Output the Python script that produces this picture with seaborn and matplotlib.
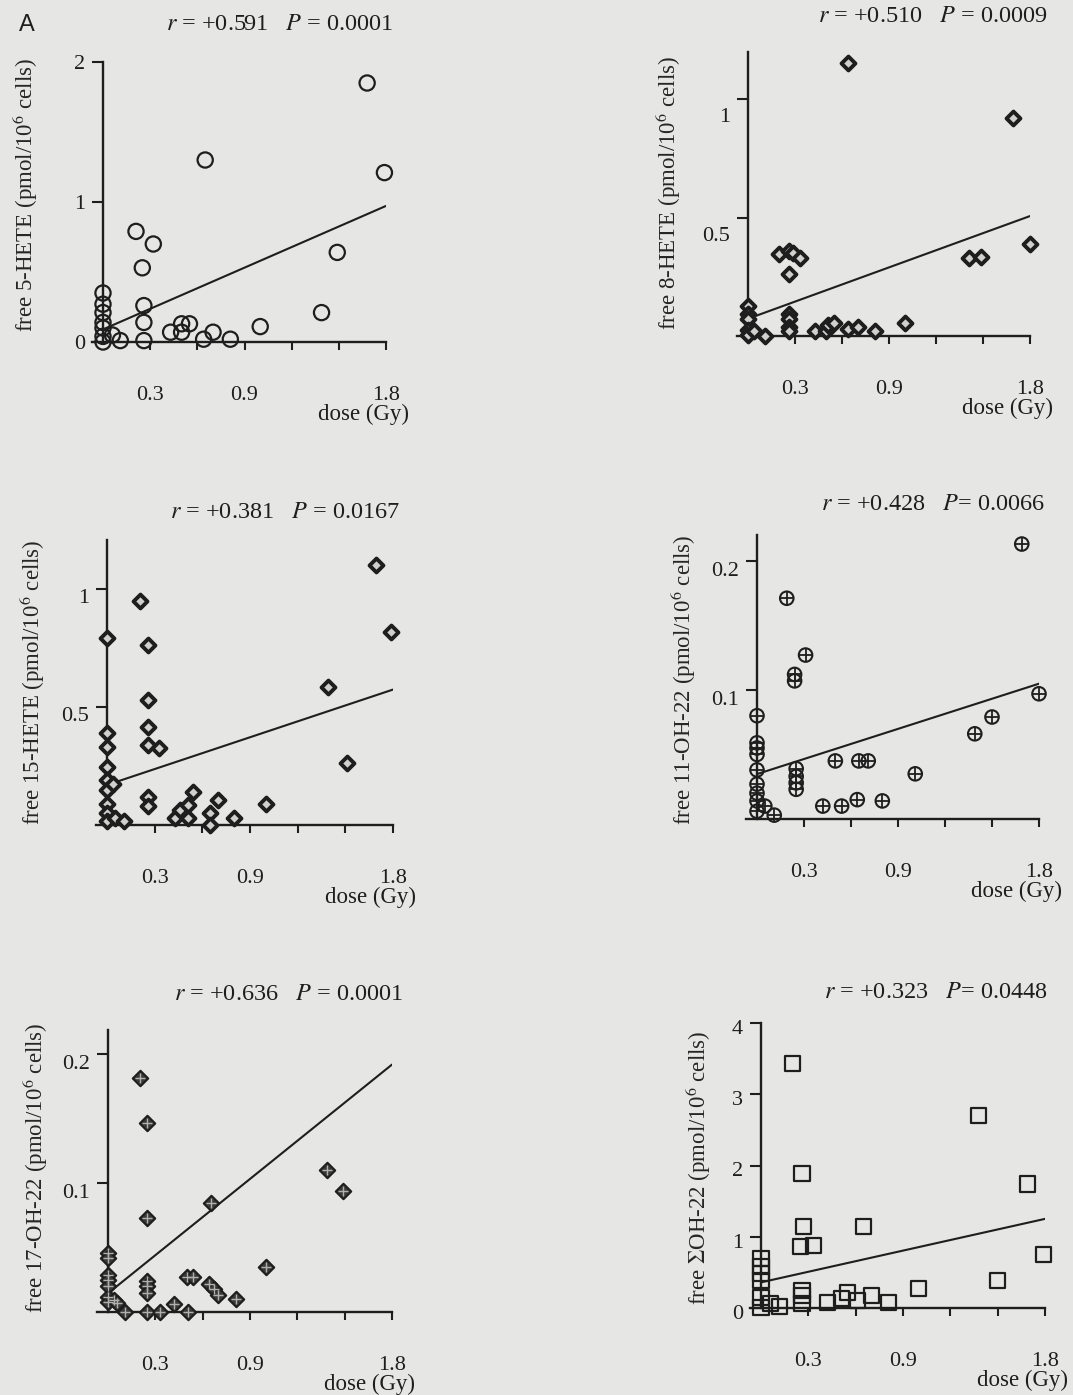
import numpy as np
import pandas as pd
import seaborn as sns
import matplotlib.pyplot as plt
from matplotlib.transforms import ScaledTranslation

# ---------------------------------------------------------
# data: dose (Gy) vs free hydroxy fatty acids
# ---------------------------------------------------------
dose_5hete = [1.68, 0.65, 1.79, 0.21, 0.32, 0.25, 1.49, 1.39, 0.0, 0.0, 0.0, 0.0, 0.0, 0.0,
              0.0, 0.06, 0.11, 0.26, 0.26, 0.26, 0.43, 0.50, 0.50, 0.55, 0.64, 0.70, 0.81, 1.00]
val_5hete = [1.85, 1.30, 1.21, 0.79, 0.70, 0.53, 0.64, 0.21, 0.35, 0.27, 0.21, 0.14, 0.10, 0.04,
             0.0, 0.05, 0.01, 0.26, 0.14, 0.01, 0.07, 0.13, 0.07, 0.13, 0.02, 0.07, 0.02, 0.11]

dose_8hete = [0.64, 1.69, 1.80, 1.41, 1.49, 0.20, 0.26, 0.29, 0.33, 0.26, 0.0, 0.0, 0.0, 0.0, 0.0,
              0.04, 0.11, 0.26, 0.26, 0.26, 0.26, 0.43, 0.50, 0.51, 0.55, 0.64, 0.70, 0.81, 1.00]
val_8hete = [1.155, 0.92, 0.39, 0.33, 0.335, 0.345, 0.36, 0.35, 0.33, 0.26, 0.125, 0.095, 0.07, 0.025, 0.005,
             0.02, 0.0, 0.095, 0.07, 0.04, 0.02, 0.02, 0.02, 0.045, 0.055, 0.03, 0.04, 0.02, 0.055]

dose_15hete = [1.69, 1.79, 1.39, 1.51, 0.21, 0.0, 0.26, 0.26, 0.26, 0.26, 0.33, 0.26, 0.26, 0.0, 0.0, 0.0,
               0.0, 0.0, 0.0, 0.0, 0.0, 0.04, 0.05, 0.11, 0.43, 0.46, 0.51, 0.51, 0.54, 0.65, 0.65, 0.70,
               0.80, 1.00]
val_15hete = [1.105, 0.82, 0.585, 0.265, 0.95, 0.795, 0.765, 0.53, 0.415, 0.34, 0.325, 0.12, 0.08, 0.39,
              0.33, 0.245, 0.19, 0.15, 0.09, 0.05, 0.015, 0.175, 0.03, 0.015, 0.03, 0.065, 0.03, 0.085,
              0.14, 0.05, 0.0, 0.105, 0.03, 0.09]

dose_11oh = [1.69, 0.19, 0.31, 0.24, 0.24, 1.80, 1.50, 1.39, 0.0, 0.0, 0.0, 0.0, 0.0, 0.0, 0.0, 0.0,
             0.0, 0.05, 0.11, 0.25, 0.25, 0.25, 0.25, 0.42, 0.50, 0.54, 0.64, 0.65, 0.71, 0.80, 1.01]
val_11oh = [0.213, 0.171, 0.127, 0.112, 0.107, 0.097, 0.079, 0.066, 0.080, 0.059, 0.055, 0.050, 0.038,
            0.027, 0.020, 0.014, 0.006, 0.010, 0.003, 0.039, 0.033, 0.028, 0.023, 0.010, 0.045, 0.010,
            0.015, 0.045, 0.045, 0.014, 0.035]

dose_17oh = [0.20, 0.25, 0.25, 0.65, 1.39, 1.49, 1.00, 0.0, 0.0, 0.0, 0.0, 0.0, 0.0, 0.0, 0.04, 0.06,
             0.11, 0.25, 0.25, 0.25, 0.25, 0.33, 0.42, 0.50, 0.54, 0.51, 0.64, 0.67, 0.70, 0.81]
val_17oh = [0.182, 0.147, 0.073, 0.085, 0.110, 0.094, 0.035, 0.046, 0.042, 0.029, 0.025, 0.020, 0.012,
            0.008, 0.0095, 0.007, 0.0, 0.024, 0.020, 0.015, 0.0, 0.0, 0.006, 0.027, 0.027, 0.0, 0.022,
            0.018, 0.013, 0.010]

dose_sumoh = [0.20, 1.38, 1.69, 0.26, 0.65, 0.27, 0.25, 0.33, 1.79, 1.50, 1.00, 0.0, 0.0, 0.0, 0.0,
              0.0, 0.0, 0.06, 0.12, 0.26, 0.26, 0.26, 0.42, 0.51, 0.55, 0.61, 0.70, 0.81]
val_sumoh = [3.43, 2.70, 1.74, 1.89, 1.15, 1.14, 0.86, 0.88, 0.75, 0.39, 0.27, 0.69, 0.58, 0.48, 0.39,
             0.15, 0.01, 0.06, 0.02, 0.25, 0.18, 0.06, 0.08, 0.13, 0.22, 0.11, 0.18, 0.08]

# regression lines (intercept, slope) as drawn in the figure
fit_5hete = (0.09, 0.49)
fit_8hete = (0.073, 0.241)
fit_15hete = (0.17, 0.225)
fit_11oh = (0.0348, 0.0389)
fit_17oh = (0.0145, 0.0987)
fit_sumoh = (0.36, 0.495)

r_values = ["+0.591", "+0.510", "+0.381", "+0.428", "+0.636", "+0.323"]
p_values = ["0.0001", "0.0009", "0.0167", "0.0066", "0.0001", "0.0448"]
p_eq = [" = ", " = ", " = ", "= ", " = ", "= "]

ylabels = ["free 5-HETE (pmol/10$^{6}$ cells)", "free 8-HETE (pmol/10$^{6}$ cells)",
           "free 15-HETE (pmol/10$^{6}$ cells)", "free 11-OH-22 (pmol/10$^{6}$ cells)",
           "free 17-OH-22 (pmol/10$^{6}$ cells)", "free $\\Sigma$OH-22 (pmol/10$^{6}$ cells)"]
yticks = [[0, 1, 2], [0.5, 1], [0.5, 1], [0.1, 0.2], [0.1, 0.2], [0, 1, 2, 3, 4]]
yticklabels = [["0", "1", "2"], ["0.5", "1"], ["0.5", "1"], ["0.1", "0.2"], ["0.1", "0.2"],
               ["0", "1", "2", "3", "4"]]
xticks = [0.3, 0.6, 0.9, 1.2, 1.5, 1.8]
xticklabels = ["0.3", "", "0.9", "", "", "1.8"]

# ---------------------------------------------------------
# layout (pixel geometry of each panel in the 1073x1395 page)
# x0, x18: pixel of dose 0 and 1.8 ; y0, yt: pixel of 0 and of ytop
# ---------------------------------------------------------
W, H = 1073, 1395
INK = "#1e1e1e"
BG = "#e6e6e4"

panels = [
    dict(x0=103, x18=386, y0=342, yt=62, ytop=2.0, lab=(25, 195), stat=(393, 25), yshift=0, kind="circle"),
    dict(x0=748, x18=1030, y0=336, yt=52, ytop=1.2, lab=(668, 193), stat=(1048, 17), yshift=16, kind="diamond"),
    dict(x0=107, x18=393, y0=825, yt=540, ytop=1.21, lab=(32, 682), stat=(400, 513), yshift=7, kind="diamond"),
    dict(x0=757, x18=1039, y0=819, yt=535, ytop=0.22, lab=(683, 680), stat=(1045, 505), yshift=8, kind="oplus"),
    dict(x0=108, x18=392, y0=1312, yt=1030, ytop=0.219, lab=(35, 1168), stat=(403, 995), yshift=8, kind="dplus"),
    dict(x0=761, x18=1045, y0=1308, yt=1023, ytop=4.0, lab=(698, 1168), stat=(1048, 992), yshift=4, kind="square"),
]

series = [(dose_5hete, val_5hete, fit_5hete), (dose_8hete, val_8hete, fit_8hete),
          (dose_15hete, val_15hete, fit_15hete), (dose_11oh, val_11oh, fit_11oh),
          (dose_17oh, val_17oh, fit_17oh), (dose_sumoh, val_sumoh, fit_sumoh)]

sns.set_style("ticks")
plt.rcParams['font.family'] = ['Liberation Serif', 'DejaVu Serif']
plt.rcParams['mathtext.fontset'] = 'stix'
plt.rcParams['text.color'] = INK
plt.rcParams['axes.edgecolor'] = INK
plt.rcParams['xtick.color'] = INK
plt.rcParams['ytick.color'] = INK

fig = plt.figure(figsize=(W / 100, H / 100), dpi=100, facecolor=BG)

XMIN = -0.07
for i, (pan, (dose, val, fit)) in enumerate(zip(panels, series)):
    pxu = (pan["x18"] - pan["x0"]) / 1.8
    L = pan["x0"] + XMIN * pxu
    R = pan["x18"]
    ax = fig.add_axes([L / W, 1 - pan["y0"] / H, (R - L) / W, (pan["y0"] - pan["yt"]) / H])
    ax.set_facecolor("none")
    ax.set_xlim(XMIN, 1.8)
    ax.set_ylim(0, pan["ytop"])

    df = pd.DataFrame({"dose": dose, "value": val})
    kind = pan["kind"]
    if kind == "circle":
        sns.scatterplot(data=df, x="dose", y="value", marker="o", s=120, facecolors="none",
                        edgecolor=INK, linewidth=1.6, ax=ax, clip_on=False, zorder=3)
    elif kind == "diamond":
        sns.scatterplot(data=df, x="dose", y="value", marker="D", s=50, facecolors="#d0d0ce",
                        edgecolor=INK, linewidth=2.8, ax=ax, clip_on=False, zorder=3)
    elif kind == "oplus":
        sns.scatterplot(data=df, x="dose", y="value", marker="o", s=95, facecolors="none",
                        edgecolor=INK, linewidth=1.5, ax=ax, clip_on=False, zorder=3)
        sns.scatterplot(data=df, x="dose", y="value", marker="+", s=95, color=INK,
                        linewidth=1.3, ax=ax, clip_on=False, zorder=4)
    elif kind == "dplus":
        sns.scatterplot(data=df, x="dose", y="value", marker="D", s=62, color="#3a3a3a",
                        edgecolor=INK, linewidth=1.5, ax=ax, clip_on=False, zorder=3)
        sns.scatterplot(data=df, x="dose", y="value", marker="+", s=50, color="#b0b0ae",
                        linewidth=1.0, ax=ax, clip_on=False, zorder=4)
    else:
        sns.scatterplot(data=df, x="dose", y="value", marker="s", s=118, facecolors="none",
                        edgecolor=INK, linewidth=1.6, ax=ax, clip_on=False, zorder=3)

    # regression line
    xs = np.array([0.0, 1.8])
    sns.lineplot(x=xs, y=fit[0] + fit[1] * xs, color=INK, linewidth=1.5, ax=ax, zorder=2)

    # axes styling
    for side in ["top", "right"]:
        ax.spines[side].set_visible(False)
    ax.spines["left"].set_position(("data", 0))
    ax.spines["left"].set_linewidth(1.7)
    ax.spines["bottom"].set_linewidth(1.7)
    ax.set_xticks(xticks)
    ax.set_xticklabels(xticklabels, fontsize=16)
    ax.set_yticks(yticks[i])
    ax.set_yticklabels(yticklabels[i], fontsize=16)
    ax.tick_params(axis="x", direction="out", length=6, width=1.5, pad=26)
    ax.tick_params(axis="y", direction="out", length=8, width=1.5, pad=5)
    shift = ScaledTranslation(0, -pan["yshift"] / 100, fig.dpi_scale_trans)
    for lab in ax.get_yticklabels():
        lab.set_transform(lab.get_transform() + shift)
    ax.set_xlabel("")
    ax.set_ylabel(ylabels[i], fontsize=16.5, va="center")
    ax.yaxis.set_label_coords((pan["lab"][0] - L) / (R - L),
                              (pan["y0"] - pan["lab"][1]) / (pan["y0"] - pan["yt"]))
    ax.annotate("dose (Gy)", xy=(1.8, 0), xycoords="data", xytext=(-16, -52),
                textcoords="offset points", ha="center", va="center", fontsize=16.5,
                annotation_clip=False)

    fig.text(pan["stat"][0] / W, 1 - pan["stat"][1] / H,
             "$r$ = " + r_values[i] + "   $P$" + p_eq[i] + p_values[i],
             ha="right", va="center", fontsize=17.5)

fig.text(27 / W, 1 - 25 / H, "A", family="Liberation Sans", fontsize=17, ha="center", va="center")

fig.savefig("out.png", dpi=100, facecolor=BG)
